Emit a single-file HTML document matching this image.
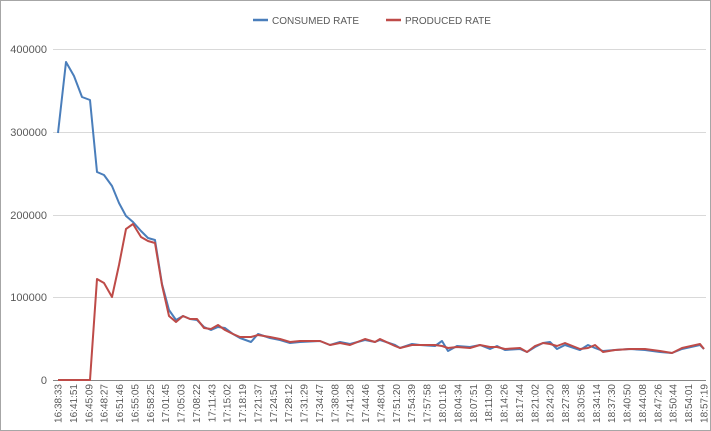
<!DOCTYPE html>
<html><head><meta charset="utf-8"><style>
html,body{margin:0;padding:0;background:#fff}
svg{display:block}
text{font-family:"Liberation Sans",sans-serif;fill:#595959}
</style></head><body>
<svg width="711" height="431" viewBox="0 0 711 431">
<rect x="0.5" y="0.5" width="710" height="430" fill="#fff" stroke="#a6a6a6"/>
<g stroke="#d9d9d9" stroke-width="1">
<line x1="53" y1="49.5" x2="706" y2="49.5"/>
<line x1="53" y1="132.5" x2="706" y2="132.5"/>
<line x1="53" y1="215.5" x2="706" y2="215.5"/>
<line x1="53" y1="297.5" x2="706" y2="297.5"/>
</g>
<line x1="53" y1="380.5" x2="706" y2="380.5" stroke="#868686"/>
<g font-size="11" text-anchor="end">
<text x="47" y="53">400000</text>
<text x="47" y="136">300000</text>
<text x="47" y="219">200000</text>
<text x="47" y="301">100000</text>
<text x="47" y="384">0</text>
</g>
<g font-size="10">
<line x1="253" y1="20" x2="268" y2="20" stroke="#4a7ebb" stroke-width="2.5"/>
<text x="272" y="24">CONSUMED RATE</text>
<line x1="386" y1="20" x2="401" y2="20" stroke="#be4b48" stroke-width="2.5"/>
<text x="405" y="24">PRODUCED RATE</text>
</g>
<polyline fill="none" stroke="#4a7ebb" stroke-width="2" stroke-linejoin="round" points="58,133 66,62 74,76 82,97 90,100 97,172 104,175 112,186 119,203 126,216 133,222 141,231 148,238 155,240 162,284 169,310 176,320 183,316 190,319 197,320 204,327 211,330 218,327 225,328 233,334 240,338 251,342 258,334 270,338 280,340 290,343 300,342 320,341 330,345 340,342 350,344 365,340 375,342 380,340 395,345 400,348 412,344 420,345 435,346 442,341 448,351 457,346 470,347 480,345 490,349 497,346 505,350 520,349 527,352 535,347 543,343 550,342 557,349 565,345 580,350 588,345 595,348 603,351 615,350 630,349 645,350 660,352 672,353 682,349 700,345 704,349"/>
<polyline fill="none" stroke="#be4b48" stroke-width="2" stroke-linejoin="round" points="58,380 90,380 97,279 104,283 112,297 119,265 126,229 133,224 141,237 148,241 155,243 162,285 169,316 176,322 183,316 190,319 197,319 204,328 211,329 218,325 225,330 233,334 240,337 251,337 258,335 270,337 280,339 290,342 300,341 320,341 330,345 340,343 350,345 365,339 375,342 380,339 395,346 400,348 412,345 420,345 435,345 442,346 448,348 457,347 470,348 480,345 490,347 497,347 505,349 520,348 527,352 535,346 543,343 550,344 557,346 565,343 580,349 588,348 595,345 603,352 615,350 630,349 645,349 660,351 672,353 682,348 700,344 704,349"/>
<g font-size="10" text-anchor="end">
<text transform="translate(61.5,384) rotate(-90)">16:38:33</text>
<text transform="translate(76.9,384) rotate(-90)">16:41:51</text>
<text transform="translate(92.3,384) rotate(-90)">16:45:09</text>
<text transform="translate(107.6,384) rotate(-90)">16:48:27</text>
<text transform="translate(123,384) rotate(-90)">16:51:46</text>
<text transform="translate(138.4,384) rotate(-90)">16:55:05</text>
<text transform="translate(153.8,384) rotate(-90)">16:58:25</text>
<text transform="translate(169.2,384) rotate(-90)">17:01:45</text>
<text transform="translate(184.5,384) rotate(-90)">17:05:03</text>
<text transform="translate(199.9,384) rotate(-90)">17:08:22</text>
<text transform="translate(215.3,384) rotate(-90)">17:11:43</text>
<text transform="translate(230.7,384) rotate(-90)">17:15:02</text>
<text transform="translate(246.1,384) rotate(-90)">17:18:19</text>
<text transform="translate(261.4,384) rotate(-90)">17:21:37</text>
<text transform="translate(276.8,384) rotate(-90)">17:24:54</text>
<text transform="translate(292.2,384) rotate(-90)">17:28:12</text>
<text transform="translate(307.6,384) rotate(-90)">17:31:29</text>
<text transform="translate(323,384) rotate(-90)">17:34:47</text>
<text transform="translate(338.3,384) rotate(-90)">17:38:08</text>
<text transform="translate(353.7,384) rotate(-90)">17:41:28</text>
<text transform="translate(369.1,384) rotate(-90)">17:44:46</text>
<text transform="translate(384.5,384) rotate(-90)">17:48:04</text>
<text transform="translate(399.9,384) rotate(-90)">17:51:20</text>
<text transform="translate(415.2,384) rotate(-90)">17:54:39</text>
<text transform="translate(430.6,384) rotate(-90)">17:57:58</text>
<text transform="translate(446,384) rotate(-90)">18:01:16</text>
<text transform="translate(461.4,384) rotate(-90)">18:04:34</text>
<text transform="translate(476.8,384) rotate(-90)">18:07:51</text>
<text transform="translate(492.1,384) rotate(-90)">18:11:09</text>
<text transform="translate(507.5,384) rotate(-90)">18:14:26</text>
<text transform="translate(522.9,384) rotate(-90)">18:17:44</text>
<text transform="translate(538.3,384) rotate(-90)">18:21:02</text>
<text transform="translate(553.7,384) rotate(-90)">18:24:20</text>
<text transform="translate(569,384) rotate(-90)">18:27:38</text>
<text transform="translate(584.4,384) rotate(-90)">18:30:56</text>
<text transform="translate(599.8,384) rotate(-90)">18:34:14</text>
<text transform="translate(615.2,384) rotate(-90)">18:37:30</text>
<text transform="translate(630.6,384) rotate(-90)">18:40:50</text>
<text transform="translate(645.9,384) rotate(-90)">18:44:08</text>
<text transform="translate(661.3,384) rotate(-90)">18:47:26</text>
<text transform="translate(676.7,384) rotate(-90)">18:50:44</text>
<text transform="translate(692.1,384) rotate(-90)">18:54:01</text>
<text transform="translate(707.5,384) rotate(-90)">18:57:19</text>
</g>
</svg>
</body></html>
